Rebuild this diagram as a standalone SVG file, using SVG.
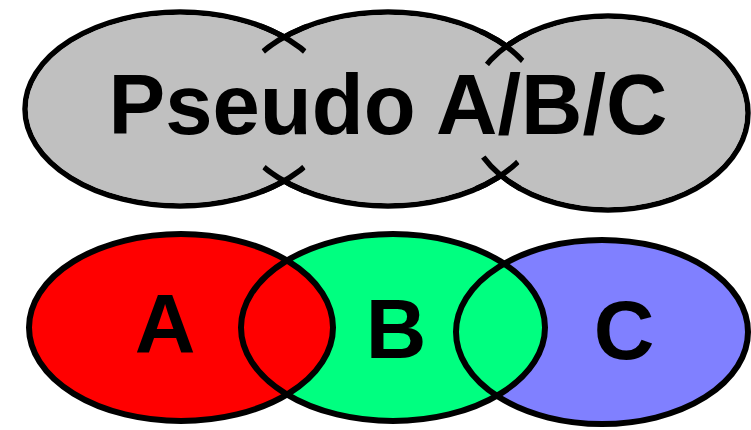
<svg xmlns="http://www.w3.org/2000/svg" width="751" height="430" viewBox="0 0 751 430">
  <style>
    .lbl { font-family: "Liberation Sans", Arial, sans-serif; font-weight: bold; fill: #000; text-anchor: middle; }
    .gray { fill: #C0C0C0; stroke: #000; stroke-width: 5.5; }
    .grayin { fill: #C0C0C0; stroke: none; }
    .xline { fill: none; stroke: #000; stroke-width: 5.5; }
    .outline { fill: none; stroke: #000; stroke-width: 6; }
  </style>
  <defs>
    <clipPath id="xclip">
      <circle cx="284" cy="36" r="26"/>
      <circle cx="284" cy="182" r="25"/>
      <circle cx="503" cy="44" r="26"/>
      <circle cx="498" cy="177" r="25"/>
    </clipPath>
  </defs>
  <rect x="0" y="0" width="751" height="430" fill="#FFFFFF"/>

  <g id="pseudo-abc">
    <ellipse class="gray" cx="180" cy="109" rx="155" ry="97"/>
    <ellipse class="gray" cx="388" cy="109" rx="155" ry="97"/>
    <ellipse class="gray" cx="608" cy="113" rx="140" ry="97"/>
    <ellipse class="grayin" cx="180" cy="109" rx="152.2" ry="94.2"/>
    <ellipse class="grayin" cx="388" cy="109" rx="152.2" ry="94.2"/>
    <ellipse class="grayin" cx="608" cy="113" rx="137.2" ry="94.2"/>
    <g clip-path="url(#xclip)">
      <ellipse class="xline" cx="180" cy="109" rx="155" ry="97"/>
      <ellipse class="xline" cx="388" cy="109" rx="155" ry="97"/>
      <ellipse class="xline" cx="608" cy="113" rx="140" ry="97"/>
    </g>
    <text class="lbl" x="388" y="134" font-size="85">Pseudo A/B/C</text>
  </g>

  <g id="node-c">
    <ellipse cx="602" cy="332" rx="146" ry="92" fill="#8080FF"/>
    <text class="lbl" x="624" y="359" font-size="84">C</text>
  </g>
  <g id="node-b">
    <ellipse cx="393" cy="327.5" rx="152" ry="93.5" fill="#00FF80"/>
    <text class="lbl" x="396" y="358" font-size="84">B</text>
  </g>
  <g id="node-a">
    <ellipse cx="181" cy="327.5" rx="152" ry="93.5" fill="#FF0000"/>
    <text class="lbl" x="165" y="353" font-size="84">A</text>
  </g>
  <g id="venn-outlines">
    <ellipse class="outline" cx="181" cy="327.5" rx="152" ry="93.5"/>
    <ellipse class="outline" cx="393" cy="327.5" rx="152" ry="93.5"/>
    <ellipse class="outline" cx="602" cy="332" rx="146" ry="92"/>
  </g>
</svg>
